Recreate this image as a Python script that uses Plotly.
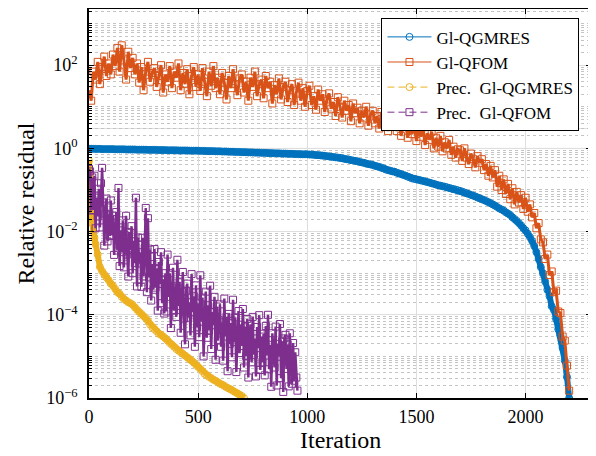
import plotly.graph_objects as go

# ---------------- data ----------------
iter_gmres = list(range(0, 2201, 10))
res_gmres = [
    0.98, 0.98, 0.97, 0.97, 0.97, 0.97, 0.96, 0.96, 0.96, 0.96,
    0.96, 0.96, 0.95, 0.95, 0.95, 0.95, 0.95, 0.94, 0.94, 0.94,
    0.94, 0.94, 0.93, 0.93, 0.93, 0.93, 0.93, 0.92, 0.92, 0.92,
    0.92, 0.92, 0.91, 0.91, 0.91, 0.91, 0.90, 0.90, 0.90, 0.90,
    0.90, 0.89, 0.89, 0.89, 0.89, 0.89, 0.88, 0.88, 0.88, 0.88,
    0.88, 0.87, 0.87, 0.87, 0.86, 0.86, 0.86, 0.86, 0.85, 0.85,
    0.85, 0.84, 0.84, 0.84, 0.83, 0.83, 0.83, 0.82, 0.82, 0.82,
    0.81, 0.81, 0.81, 0.80, 0.80, 0.80, 0.79, 0.79, 0.79, 0.78,
    0.78, 0.78, 0.77, 0.77, 0.77, 0.76, 0.76, 0.76, 0.75, 0.75,
    0.75, 0.74, 0.74, 0.74, 0.73, 0.73, 0.73, 0.72, 0.72, 0.72,
    0.72, 0.71, 0.71, 0.70, 0.69, 0.69, 0.68, 0.67, 0.66, 0.65,
    0.64, 0.63, 0.62, 0.61, 0.60, 0.59, 0.58, 0.56, 0.55, 0.54,
    0.52, 0.51, 0.50, 0.49, 0.47, 0.46, 0.45, 0.43, 0.42, 0.41,
    0.40, 0.38, 0.37, 0.36, 0.34, 0.33, 0.31, 0.30, 0.29, 0.28,
    0.275, 0.26, 0.25, 0.24, 0.23, 0.22, 0.21, 0.20, 0.19, 0.185,
    0.18, 0.175, 0.17, 0.165, 0.16, 0.155, 0.15, 0.145, 0.14, 0.135,
    0.13, 0.127, 0.123, 0.12, 0.116, 0.112, 0.108, 0.105, 0.102, 0.098,
    0.095, 0.091, 0.087, 0.083, 0.080, 0.076, 0.073, 0.070, 0.066, 0.063,
    0.060, 0.057, 0.054, 0.051, 0.048, 0.045, 0.042, 0.039, 0.036, 0.034,
    0.032, 0.029, 0.027, 0.025, 0.022, 0.020, 0.018, 0.016, 0.014, 0.012,
    0.0107, 0.0089, 0.0074, 0.0060, 0.0045, 0.0032, 0.0022, 0.0014, 0.0010, 6.3e-4,
    4.0e-4, 2.8e-4, 1.6e-4, 1.3e-4, 7.9e-5, 4.5e-5, 3.2e-5, 1.6e-5, 7.9e-6, 3.2e-6,
    1.0e-6,
]

iter_fom = list(range(0, 2201, 10))
res_fom = [
    25, 14, 70, 45, 120, 35, 90, 160, 55, 110,
    60, 180, 95, 260, 70, 300, 130, 45, 210, 85,
    150, 60, 110, 38, 90, 25, 70, 120, 40, 65,
    85, 30, 55, 100, 22, 60, 40, 95, 28, 70,
    50, 110, 25, 65, 35, 80, 20, 55, 90, 30,
    60, 24, 85, 40, 18, 70, 32, 95, 28, 50,
    20, 65, 38, 15, 55, 28, 80, 35, 19, 48,
    60, 22, 40, 14, 50, 30, 70, 18, 35, 45,
    16, 55, 28, 40, 12, 33, 20, 48, 15, 30,
    40, 13, 25, 35, 11, 22, 38, 14, 28, 10,
    24, 32, 11, 18, 8.5, 26, 14, 20, 7.5, 15,
    21, 9, 13, 6, 17, 10, 5.5, 14, 8, 11,
    4.5, 12, 7, 9.5, 4, 8, 5.5, 10, 3.5, 6.5,
    8, 4, 6, 3, 7.5, 4.5, 5.5, 2.6, 6, 3.5,
    5.5, 2.6, 4.2, 2.0, 3.6, 4.5, 1.8, 3.0, 2.2, 3.8,
    1.5, 2.8, 1.9, 3.2, 1.2, 2.3, 1.6, 2.5, 1.0, 1.8,
    1.1, 2.0, 0.85, 1.4, 1.0, 1.6, 0.7, 1.1, 0.6, 0.95,
    0.9, 0.5, 1.0, 0.6, 0.42, 0.75, 0.55, 0.35, 0.65, 0.45,
    0.55, 0.30, 0.42, 0.22, 0.38, 0.20, 0.30, 0.12, 0.22, 0.10,
    0.18, 0.08, 0.14, 0.06, 0.11, 0.045, 0.09, 0.05, 0.075, 0.035,
    0.065, 0.03, 0.045, 0.022, 0.028, 0.012, 0.016, 0.0065, 0.0055, 0.0022,
    0.0028, 9e-4, 1.1e-3, 3.5e-4, 3.8e-4, 1.2e-4, 1.1e-4, 3.0e-5, 2.4e-5, 6e-6,
    1.5e-6,
]

iter_prec_gmres = [0, 2, 4, 6, 8, 10, 15, 20, 25, 30,
                   40, 50, 60, 70, 80, 90,
                   100, 110, 120, 130, 140, 150, 160, 170, 180, 190,
                   200, 210, 220, 230, 240, 250, 260, 270, 280, 290,
                   300, 310, 320, 330, 340, 350, 360, 370, 380, 390,
                   400, 410, 420, 430, 440, 450, 460, 470, 480, 490,
                   500, 510, 520, 530, 540, 550, 560, 570, 580, 590,
                   600, 610, 620, 630, 640, 650, 660, 670, 680, 690,
                   700, 710]
res_prec_gmres = [0.50, 0.224, 0.112, 0.063, 0.040, 0.028, 0.0158, 0.0100, 0.0071, 0.0050,
                  0.0028, 1.41e-3, 1.12e-3, 9.3e-4, 7.9e-4, 6.8e-4,
                  5.6e-4, 5.0e-4, 4.2e-4, 3.5e-4, 3.2e-4, 2.7e-4, 2.4e-4, 2.2e-4, 2.0e-4, 1.9e-4,
                  1.74e-4, 1.51e-4, 1.32e-4, 1.17e-4, 1.05e-4, 9.3e-5, 8.3e-5, 7.1e-5, 5.8e-5, 5.0e-5,
                  4.5e-5, 4.0e-5, 3.5e-5, 3.3e-5, 3.0e-5, 2.7e-5, 2.4e-5, 2.1e-5, 1.9e-5, 1.7e-5,
                  1.5e-5, 1.38e-5, 1.26e-5, 1.15e-5, 1.05e-5, 9.5e-6, 8.7e-6, 7.9e-6, 7.1e-6, 6.3e-6,
                  5.6e-6, 5.0e-6, 4.4e-6, 3.8e-6, 3.5e-6, 3.2e-6, 3.0e-6, 2.75e-6, 2.6e-6, 2.4e-6,
                  2.2e-6, 2.1e-6, 1.95e-6, 1.8e-6, 1.7e-6, 1.6e-6, 1.48e-6, 1.38e-6, 1.29e-6, 1.2e-6,
                  1.12e-6, 1.0e-6]

iter_prec_fom = list(range(0, 956, 5))
res_prec_fom = [
    3.2e-1, 2.8e-1, 3.2e-2, 2.0e-1, 3.3e-2, 2.2e-1, 1.2e-2, 6.6e-2, 2.3e-2, 1.07e-1,
    1.26e-2, 1.45e-1, 3.4e-1, 5.0e-2, 4.6e-3, 2.7e-2, 6.2e-2, 5.8e-3, 2.6e-2, 7.8e-3,
    5.6e-2, 8.1e-3, 2.4e-2, 2.75e-3, 1.29e-2, 2.95e-2, 3.5e-3, 1.12e-1, 1.48e-3, 1.07e-2,
    3.2e-3, 1.86e-2, 1.38e-3, 8.1e-3, 2.4e-2, 2.8e-3, 8.3e-4, 9.8e-3, 3.6e-3, 1.35e-2,
    1.0e-3, 5.9e-3, 1.74e-3, 6.5e-2, 4.8e-4, 7.2e-3, 1.7e-3, 3.2e-3, 4.7e-4, 7.1e-3,
    8.3e-4, 4.0e-3, 3.7e-2, 3.5e-4, 2.1e-2, 7.9e-4, 3.7e-3, 2.2e-4, 1.66e-3, 4.0e-4,
    3.8e-3, 4.5e-4, 1.32e-3, 1.26e-4, 1.86e-3, 5.5e-4, 3.2e-3, 1.9e-4, 7.1e-4, 1.07e-4,
    1.0e-3, 1.2e-4, 2.8e-3, 2.7e-4, 1.0e-3, 4.8e-5, 4.5e-4, 1.35e-3, 1.26e-4, 4.8e-4,
    8.9e-5, 2.1e-3, 1.62e-4, 6.2e-4, 3.7e-5, 3.5e-4, 1.07e-3, 8.1e-5, 1.95e-5, 3.7e-4,
    5.6e-4, 8.5e-5, 2.0e-4, 3.2e-5, 9.5e-4, 1.15e-4, 2.8e-4, 1.7e-5, 5.1e-4, 5.0e-5,
    1.9e-4, 2.9e-5, 8.9e-4, 6.8e-5, 2.6e-4, 1.0e-5, 1.2e-4, 3.6e-4, 2.8e-5, 1.7e-4,
    4.2e-5, 5.0e-4, 1.5e-5, 1.17e-4, 5.6e-5, 2.7e-4, 8.3e-6, 1.58e-4, 2.4e-5, 7.4e-5,
    1.78e-4, 1.7e-5, 6.6e-5, 7.9e-6, 2.45e-4, 3.0e-5, 8.9e-5, 4.4e-6, 1.05e-4, 2.0e-5,
    6.3e-5, 9.5e-6, 2.3e-4, 2.2e-5, 8.7e-5, 4.2e-6, 3.2e-5, 1.23e-4, 1.2e-5, 5.8e-5,
    1.78e-5, 1.38e-4, 5.4e-6, 5.2e-5, 1.02e-5, 7.9e-5, 3.1e-6, 3.0e-5, 5.9e-5, 7.2e-6,
    8.9e-5, 1.1e-5, 2.7e-5, 3.3e-6, 5.1e-5, 1.58e-5, 9.8e-5, 4.7e-6, 3.0e-5, 7.2e-6,
    3.5e-5, 3.5e-6, 5.4e-5, 1.05e-5, 1.0e-4, 4.9e-6, 1.9e-5, 1.86e-6, 3.6e-5, 1.1e-5,
    5.4e-6, 5.2e-5, 2.0e-6, 2.0e-5, 9.8e-6, 6.0e-5, 3.0e-6, 2.3e-5, 1.4e-6, 2.7e-5,
    3.3e-5, 5.0e-6, 1.95e-5, 1.9e-6, 3.6e-5, 5.6e-6, 2.2e-6, 2.1e-5, 2.6e-6, 1.26e-5,
    3.1e-6, 1.5e-6,
]

series_names = ["Gl-QGMRES", "Gl-QFOM", "Prec.\u00a0 Gl-QGMRES", "Prec.\u00a0 Gl-QFOM"]
x_title = "Iteration"
y_title = "Relative residual"

x_tickvals = [0, 500, 1000, 1500, 2000]
x_ticktext = ["0", "500", "1000", "1500", "2000"]
y_label_decades = [-6, -4, -2, 0, 2]
y_ticktext = ["10<sup>\u22126</sup>", "10<sup>\u22124</sup>", "10<sup>\u22122</sup>",
              "10<sup>0</sup>", "10<sup>2</sup>"]
y_unlabelled_decades = [-5, -3, -1, 1, 3]

# ---------------- styling ----------------
BLUE, ORANGE, YELLOW, PURPLE = "#0072BD", "#D95319", "#EDB120", "#7E2F8E"
FONT = "Liberation Serif"
DASH = "7px,4px"

fig = go.Figure()

# data traces: every iteration is marked in the original, so the bands look solid;
# a heavier connecting line reproduces that density.
data_specs = [
    (iter_gmres, res_gmres, BLUE, "circle-open", 6),
    (iter_fom, res_fom, ORANGE, "square-open", 3),
    (iter_prec_gmres, res_prec_gmres, YELLOW, "circle-open", 6),
    (iter_prec_fom, res_prec_fom, PURPLE, "square-open", 2.5),
]
for x, y, color, symbol, lw in data_specs:
    fig.add_trace(go.Scatter(
        x=x, y=y, mode="lines+markers", showlegend=False, hoverinfo="skip",
        line=dict(color=color, width=lw),
        marker=dict(symbol=symbol, size=7, color=color, line=dict(width=1, color=color)),
    ))

# legend entries (thin line + marker, dashed for the preconditioned runs)
legend_specs = [
    (series_names[0], BLUE, "circle-open", "solid"),
    (series_names[1], ORANGE, "square-open", "solid"),
    (series_names[2], YELLOW, "circle-open", DASH),
    (series_names[3], PURPLE, "square-open", DASH),
]
for name, color, symbol, dash in legend_specs:
    fig.add_trace(go.Scatter(
        x=[None], y=[None], name=name, mode="lines+markers",
        line=dict(color=color, width=1, dash=dash),
        marker=dict(symbol=symbol, size=7, color=color, line=dict(width=1, color=color)),
    ))

y_tickvals = [10.0 ** e for e in y_label_decades]
y_minor = [m * 10.0 ** e for e in range(-6, 4) for m in range(1, 10)
           if not (m == 1 and e in y_label_decades)]

axis_common = dict(
    showline=True, linecolor="black", linewidth=1.5, mirror="ticks",
    ticks="inside", ticklen=5, tickwidth=1, tickcolor="black",
    showgrid=True, gridcolor="#DEDEDE", gridwidth=1, zeroline=False,
    tickfont=dict(family=FONT, size=18, color="black"),
    automargin=False,
)

fig.update_xaxes(
    range=[0, 2300], tickmode="array", tickvals=x_tickvals, ticktext=x_ticktext,
    ticklabelstandoff=2,
    **axis_common,
)
fig.update_yaxes(
    type="log", range=[-6, 3.35], tickmode="array", tickvals=y_tickvals, ticktext=y_ticktext,
    title=dict(text=y_title, font=dict(family=FONT, size=24, color="black"), standoff=5),
    ticklabelstandoff=6,
    minor=dict(tickmode="array", tickvals=y_minor, ticks="inside", ticklen=3, tickcolor="black",
               showgrid=True, gridcolor="#C4C4C4", griddash="dot", gridwidth=1),
    **axis_common,
)

# solid grid lines at the unlabelled decades (log axis: shape coords are exponents)
for e in y_unlabelled_decades:
    fig.add_shape(type="line", xref="paper", x0=0, x1=1, yref="y", y0=e, y1=e,
                  line=dict(color="#DEDEDE", width=1), layer="below")

# x-axis title placed as an annotation so it can sit as close as in the original
fig.add_annotation(text=x_title, xref="paper", yref="paper", x=0.5, y=0,
                   xanchor="center", yanchor="middle", yshift=-42, showarrow=False,
                   font=dict(family=FONT, size=24, color="black"))

fig.update_layout(
    width=588, height=448,
    margin=dict(l=81, r=5, t=1, b=58),
    paper_bgcolor="white", plot_bgcolor="white",
    font=dict(family=FONT, color="black"),
    showlegend=True,
    legend=dict(
        x=0.977, y=0.976, xanchor="right", yanchor="top",
        bgcolor="white", bordercolor="black", borderwidth=1,
        font=dict(family=FONT, size=17, color="black"),
        tracegroupgap=0, itemwidth=44,
    ),
)

fig.write_html("out.html")
